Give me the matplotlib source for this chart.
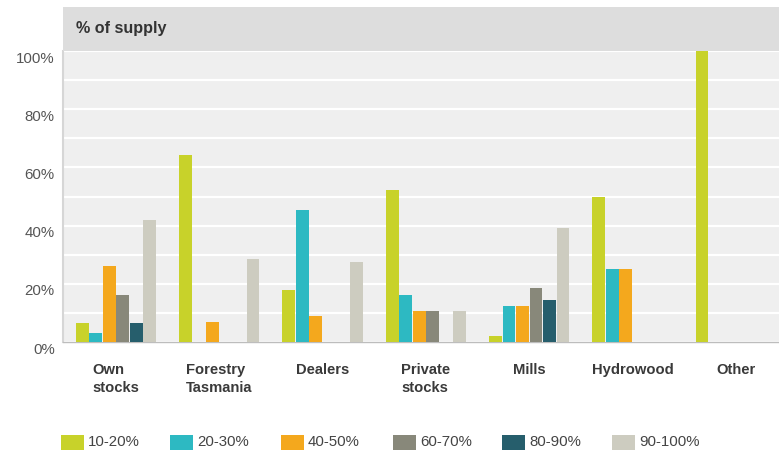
import matplotlib
matplotlib.use("Agg")
import matplotlib.pyplot as plt
from matplotlib.patches import Rectangle
from matplotlib.transforms import ScaledTranslation, blended_transform_factory
import numpy as np

plt.rcParams["font.family"] = ["Liberation Sans", "DejaVu Sans"]

categories = ["Own\nstocks", "Forestry\nTasmania", "Dealers", "Private\nstocks",
              "Mills", "Hydrowood", "Other"]
series = ["10-20%", "20-30%", "40-50%", "60-70%", "80-90%", "90-100%"]
colors = ["#c8d22a", "#2db9c2", "#f4a81d", "#88887a", "#265e6c", "#cdccc0"]

share_10_20 = [6.5, 64.3, 18.0, 52.2, 2.0, 50.0, 100.0]
share_20_30 = [3.0, 0.0, 45.4, 16.0, 12.5, 25.0, 0.0]
share_40_50 = [26.0, 7.0, 9.0, 10.5, 12.5, 25.0, 0.0]
share_60_70 = [16.0, 0.0, 0.0, 10.5, 18.5, 0.0, 0.0]
share_80_90 = [6.5, 0.0, 0.0, 0.0, 14.5, 0.0, 0.0]
share_90_100 = [41.8, 28.4, 27.5, 10.5, 39.3, 0.0, 0.0]
values = [share_10_20, share_20_30, share_40_50, share_60_70, share_80_90, share_90_100]

yticks = [0, 20, 40, 60, 80, 100]
ytick_labels = ["0%", "20%", "40%", "60%", "80%", "100%"]

W, H = 779, 450
fig = plt.figure(figsize=(W / 100, H / 100), dpi=100)

# plotting panel (pixel geometry converted to figure fractions)
left_px, right_px, top_px, bottom_px = 63, 779, 51, 342
ax = fig.add_axes([left_px / W, 1 - bottom_px / H,
                   (right_px - left_px) / W, (bottom_px - top_px) / H])
ax.set_facecolor("#efefef")

# header band with the axis title
fig.patches.append(Rectangle((left_px / W, 1 - top_px / H), (right_px - left_px) / W,
                             (top_px - 7) / H, transform=fig.transFigure,
                             facecolor="#dddddd", edgecolor="none", zorder=0))
fig.text(76 / W, 1 - 28 / H, "% of supply", fontsize=11.6, fontweight="bold",
         color="#333333", va="center", ha="left")

x = np.arange(len(categories))
slot = 0.1307
bar_w = 0.124
for k, (name, vals, col) in enumerate(zip(series, values, colors)):
    ax.bar(x + (k - 2.5) * slot, vals, width=bar_w, color=col, label=name,
           zorder=3, linewidth=0)

ax.set_xlim(-0.513, 6.418)
ax.set_ylim(0, 100)
ax.set_yticks(yticks)
ax.set_yticklabels(ytick_labels, fontsize=10.8, color="#555555")
ax.set_yticks(np.arange(0, 101, 10), minor=True)
ax.tick_params(axis="y", which="both", length=0, pad=6)
ax.tick_params(axis="x", length=0, labelbottom=False)
ax.grid(axis="y", which="both", color="white", linewidth=1.6, zorder=1)
ax.set_axisbelow(True)
for lbl in ax.get_yticklabels():
    lbl.set_transform(lbl.get_transform() + ScaledTranslation(0, -0.06, fig.dpi_scale_trans))

for side in ("top", "right"):
    ax.spines[side].set_visible(False)
ax.spines["left"].set_color("#d6d6d6")
ax.spines["left"].set_linewidth(1.5)
ax.spines["bottom"].set_color("#bdbdbd")
ax.spines["bottom"].set_linewidth(1.0)

# category labels under each group
trans = blended_transform_factory(ax.transData, ax.transAxes)
for xi, cat in zip(x, categories):
    ax.text(xi, -0.073, cat, transform=trans, ha="center", va="top",
            multialignment="left", fontsize=10.6, fontweight="bold",
            color="#3a3a3a", linespacing=1.38)

# legend row
leg_x = [61, 170, 281, 393, 502, 612]
for lx, name, col in zip(leg_x, series, colors):
    fig.patches.append(Rectangle((lx / W, 1 - 451 / H), 23 / W, 16 / H,
                                 transform=fig.transFigure, facecolor=col,
                                 edgecolor="none"))
    fig.text((lx + 27) / W, 1 - 442 / H, name, fontsize=10.8, color="#444444",
             va="center", ha="left")

fig.savefig("out.png", dpi=100)
